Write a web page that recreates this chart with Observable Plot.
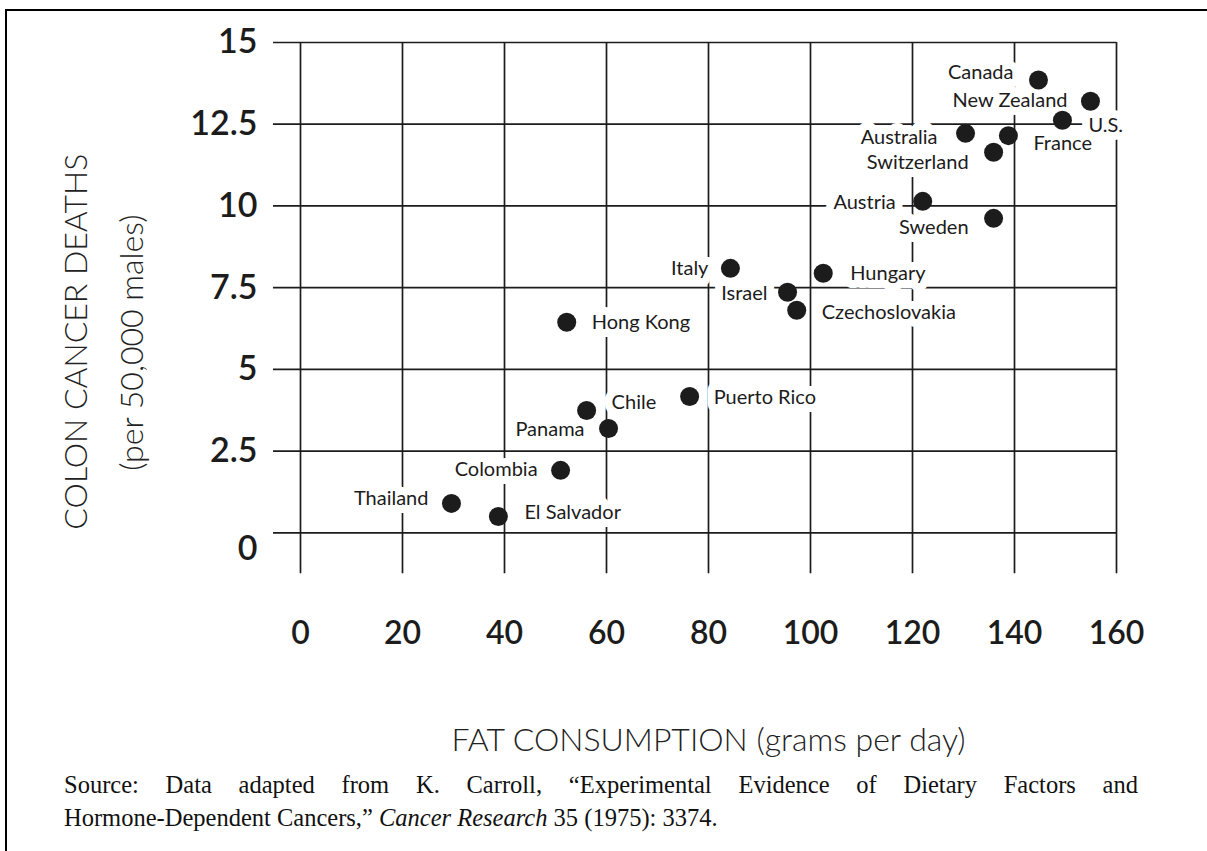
<!DOCTYPE html>
<html>
<head>
<meta charset="utf-8">
<script src="https://cdn.jsdelivr.net/npm/d3@7"></script>
<script src="https://cdn.jsdelivr.net/npm/@observablehq/plot@0.6"></script>
<style>
  html, body { margin: 0; padding: 0; background: #fff; }
  #chart { position: absolute; left: 0; top: 0; }
  #frame { position: absolute; left: 5px; top: 9px; width: 1240px; height: 900px;
           border-top: 2.5px solid #000; border-left: 2.5px solid #000; background: transparent;
           pointer-events: none; z-index: 5; }
  #caption { position: absolute; left: 64px; top: 768px; width: 1074px;
             font-family: "Liberation Serif", "Times New Roman", serif; font-size: 24.5px;
             line-height: 33px; color: #111; }
  #caption .l1 { text-align: justify; text-align-last: justify; }
</style>
</head>
<body>
<div id="chart"></div>
<div id="frame"></div>
<div id="caption">
  <div class="l1">Source: Data adapted from K. Carroll, “Experimental Evidence of Dietary Factors and</div>
  <div>Hormone-Dependent Cancers,” <i>Cancer Research</i> 35 (1975): 3374.</div>
</div>
<script>
// ---- data ----
const countries = ["Thailand", "El Salvador", "Colombia", "Panama", "Chile", "Hong Kong", "Puerto Rico",
  "Italy", "Israel", "Czechoslovakia", "Hungary", "Austria", "Sweden", "Switzerland", "Australia",
  "France", "U.S.", "New Zealand", "Canada"];
const fatGrams = [29.6, 38.8, 51.0, 60.4, 56.1, 52.2, 76.3,
  84.3, 95.5, 97.3, 102.5, 122.0, 135.9, 135.9, 130.4,
  138.8, 149.4, 154.9, 144.7];
const colonDeaths = [0.90, 0.50, 1.91, 3.19, 3.74, 6.44, 4.17,
  8.09, 7.36, 6.81, 7.94, 10.14, 9.62, 11.64, 12.22,
  12.15, 12.62, 13.20, 13.85];
const xTicks = [0, 20, 40, 60, 80, 100, 120, 140, 160];
const yTicks = [0, 2.5, 5, 7.5, 10, 12.5, 15];
const yTickLabels = ["0", "2.5", "5", "7.5", "10", "12.5", "15"];
const xTitle = "FAT CONSUMPTION (grams per day)";
const yTitle = "COLON CANCER DEATHS";
const ySubtitle = "(per 50,000 males)";

// ---- label placement (style: anchor side and pixel offset from the dot) ----
const labelSide = ["end", "start", "end", "end", "start", "start", "start",
  "end", "end", "start", "start", "end", "end", "end", "end",
  "start", "start", "end", "end"];
const labelDx = [-23, 26, -23, -24, 25, 25, 24, -22, -20, 25, 27, -27, -25, -25, -28, 25, 26, -23, -25];
const labelDy = [-5, -4, -1, 1, -8, 0, 1, 0, 1, 2, 0, 1, 9, 10, 4, 8, 5, -1, -7];

const rows = countries.map((c, i) => ({country: c, fat: fatGrams[i], deaths: colonDeaths[i]}));
const yLabelOf = new Map(yTicks.map((t, i) => [t, yTickLabels[i]]));

const ink = "#1c1c1c";
const gridStyle = {stroke: ink, strokeWidth: 1.7};

const labelMarks = rows.map((r, i) => Plot.text([r], {
  x: "fat", y: "deaths", text: "country",
  textAnchor: labelSide[i], dx: labelDx[i], dy: labelDy[i],
  fontSize: 20, fill: ink, stroke: "white", strokeWidth: 16, strokeLinejoin: "round"
}));

const yAxisStyle = {tickSize: 0, tickPadding: 43, fontSize: 34, fontWeight: 600, label: null, fill: ink,
  tickFormat: d => yLabelOf.get(d)};

const chart = Plot.plot({
  width: 1207,
  height: 770,
  marginTop: 42,
  marginBottom: 237.7,
  marginLeft: 300,
  marginRight: 91,
  style: {fontFamily: "Lato, 'Open Sans', sans-serif", background: "transparent", color: ink},
  x: {domain: [0, 160], axis: null},
  y: {domain: [0, 15], axis: null},
  marks: [
    Plot.ruleY(yTicks, {...gridStyle, insetLeft: -27}),
    Plot.ruleX(xTicks, {...gridStyle, insetBottom: -41}),
    ...labelMarks,
    Plot.dot(rows, {x: "fat", y: "deaths", r: 9.5, fill: ink, stroke: null}),
    Plot.axisY(yTicks.filter(d => d !== 0), yAxisStyle),
    Plot.axisY(yTicks.filter(d => d === 0), {...yAxisStyle, dy: 16}),
    Plot.axisX(xTicks, {tickSize: 0, tickPadding: 88, fontSize: 32, fontWeight: 600, label: null, fill: ink}),
    Plot.text([yTitle], {text: d => d, frameAnchor: "left", rotate: -90, textAnchor: "middle", lineAnchor: "middle",
      dx: -224, dy: 54, fontSize: 32, fontWeight: 300, fill: "#222"}),
    Plot.text([ySubtitle], {text: d => d, frameAnchor: "left", rotate: -90, textAnchor: "middle", lineAnchor: "middle",
      dx: -168, dy: 55, fontSize: 32, fontWeight: 300, fill: "#222"}),
    Plot.text([xTitle], {text: d => d, frameAnchor: "bottom", textAnchor: "middle", lineAnchor: "middle",
      dy: 208, fontSize: 32, fontWeight: 300, fill: "#222"})
  ]
});
document.getElementById("chart").appendChild(chart);
</script>
</body>
</html>
